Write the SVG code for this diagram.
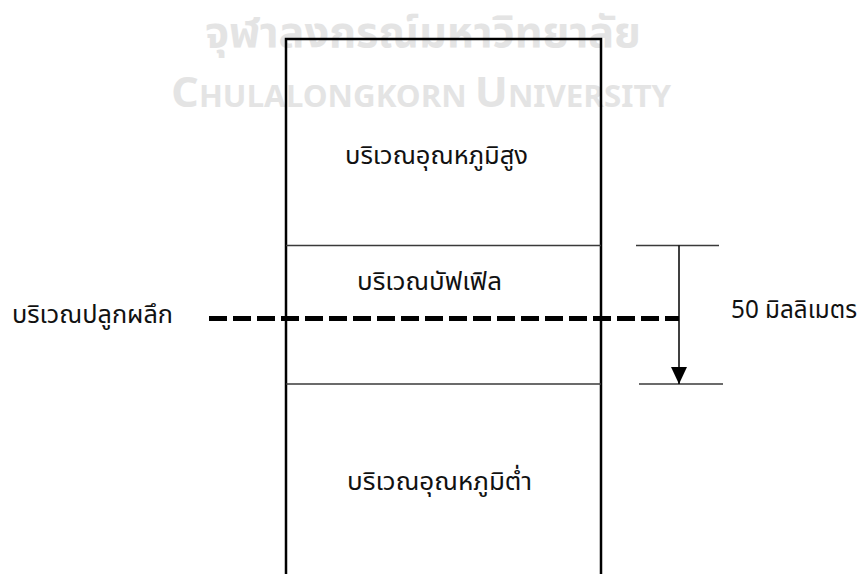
<svg xmlns="http://www.w3.org/2000/svg" width="860" height="574" viewBox="0 0 860 574">
<style>
.wm{fill:#e4e4e4;font-family:"Noto Sans Thai","Liberation Sans","Noto Sans",sans-serif;font-weight:bold}
.lbl{fill:#111;font-family:"Noto Sans Thai","Liberation Sans","Noto Sans",sans-serif;font-size:25px}
.thin{stroke:#3a3a3a;stroke-width:1.5;fill:none}
.border{stroke:#000;stroke-width:2.5;fill:none}
</style>
<defs>
<marker id="arr" markerWidth="17" markerHeight="16" refX="17" refY="8" orient="auto" markerUnits="userSpaceOnUse">
<path d="M0,0 L17,8 L0,16 Z" fill="#000"/>
</marker>
</defs>
<rect width="860" height="574" fill="#fff"/>
<g id="watermark">
<text class="wm" x="423" y="47" font-size="42" text-anchor="middle" textLength="436" lengthAdjust="spacingAndGlyphs">จุฬาลงกรณ์มหาวิทยาลัย</text>
<text class="wm" x="421" y="107" font-size="30" text-anchor="middle" textLength="500" lengthAdjust="spacingAndGlyphs"><tspan font-size="42">C</tspan>HULALONGKORN <tspan font-size="42">U</tspan>NIVERSITY</text>
</g>
<g id="column">
<path class="border" d="M286,574 L286,39 L601,39 L601,574"/>
<line class="thin" x1="286" y1="245.5" x2="601" y2="245.5"/>
<line class="thin" x1="286" y1="384" x2="601" y2="384"/>
</g>
<g id="high-temp"><text class="lbl" x="345" y="164" textLength="183" lengthAdjust="spacingAndGlyphs">บริเวณอุณหภูมิสูง</text></g>
<g id="baffle"><text class="lbl" x="357" y="290" textLength="145" lengthAdjust="spacingAndGlyphs">บริเวณบัฟเฟิล</text></g>
<g id="low-temp"><text class="lbl" x="347" y="490" textLength="185" lengthAdjust="spacingAndGlyphs">บริเวณอุณหภูมิต่ำ</text></g>
<g id="growth-label"><text class="lbl" x="12" y="323" textLength="161" lengthAdjust="spacingAndGlyphs">บริเวณปลูกผลึก</text></g>
<g id="dimension-label"><text class="lbl" x="731" y="318" textLength="126" lengthAdjust="spacingAndGlyphs">50 มิลลิเมตร</text></g>
<g id="connectors">
<line x1="209" y1="318.5" x2="679" y2="318.5" stroke="#000" stroke-width="5" stroke-dasharray="18 6"/>
<line class="thin" x1="636" y1="245.5" x2="719" y2="245.5"/>
<line class="thin" x1="639" y1="384" x2="723" y2="384"/>
<line x1="679" y1="245.5" x2="679" y2="384" stroke="#000" stroke-width="1.5" marker-end="url(#arr)"/>
</g>
</svg>
